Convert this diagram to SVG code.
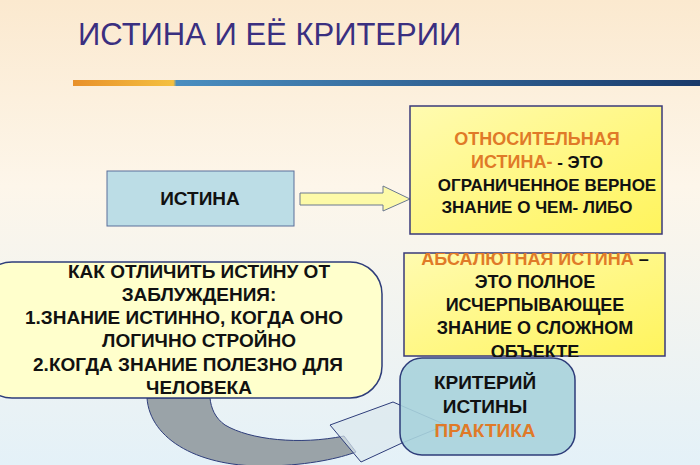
<svg xmlns="http://www.w3.org/2000/svg" width="700" height="465" viewBox="0 0 700 465">
<defs>
<linearGradient id="bg" x1="0" y1="0" x2="0" y2="1"><stop offset="0" stop-color="#fbe9cf"/><stop offset="0.4" stop-color="#fdf6ea"/><stop offset="1" stop-color="#e4f1f8"/></linearGradient>
<linearGradient id="yl" x1="0" y1="0" x2="1" y2="1"><stop offset="0" stop-color="#fffbb0"/><stop offset="1" stop-color="#fff45c"/></linearGradient>
<linearGradient id="bar" x1="0" x2="1"><stop offset="0" stop-color="#e8902a"/><stop offset="0.16" stop-color="#f4c040"/><stop offset="0.165" stop-color="#4a8ec0"/><stop offset="1" stop-color="#1a3a6a"/></linearGradient>
<clipPath id="cA"><rect x="404" y="253" width="262" height="104"/></clipPath>
<style>
.t{font-family:"Liberation Sans",Arial,sans-serif;font-weight:bold;font-size:17px;fill:#111;text-anchor:middle}
.o{fill:#e07a28}
.big{font-size:18px}
</style>
</defs>
<rect width="700" height="465" fill="url(#bg)"/>
<text x="78" y="45" font-family="Liberation Sans,sans-serif" font-size="31" fill="#3a2f80">ИСТИНА И ЕЁ КРИТЕРИИ</text>
<rect x="73" y="80" width="627" height="6" fill="url(#bar)"/>
<g id="connectors">
<path d="M147,398 C150,440 200,468 270,466 C310,465 340,458 356,452 L344,436 C300,445 250,440 225,425 C215,418 211,408 210,398 Z" fill="#9aa3a8" stroke="#2e3d7a" stroke-width="1"/>
<path d="M330,425 L393,402 L446,425 L402,443 L361,462 Z" fill="#dbe8ee" fill-opacity="0.7" stroke="#2e3d7a" stroke-width="1"/>
<path d="M300,193 L383,193 L383,186 L410,199 L383,211 L383,205 L300,205 Z" fill="#fdfaa8" stroke="#6a7890" stroke-width="1"/>
</g>
<g id="istina"><rect x="107" y="171" width="187" height="55" fill="#bcdde6" stroke="#5a6f9a"/><text class="t" x="200" y="205" style="font-size:19px">ИСТИНА</text></g>
<g id="relative"><rect x="410" y="106" width="252" height="128" fill="url(#yl)" stroke="#3a3a7a" stroke-width="1.5"/>
<text class="t" x="537" y="145"><tspan class="o big">ОТНОСИТЕЛЬНАЯ</tspan></text>
<text class="t" x="537" y="168"><tspan class="o big">ИСТИНА-</tspan> - ЭТО</text>
<text class="t" x="547" y="191">ОГРАНИЧЕННОЕ ВЕРНОЕ</text>
<text class="t" x="537" y="213">ЗНАНИЕ О ЧЕМ- ЛИБО</text></g>
<g id="absolute"><rect x="404" y="253" width="261" height="103" fill="url(#yl)" stroke="#3a3a7a" stroke-width="1.5"/>
<g clip-path="url(#cA)"><text class="t big" x="535" y="265"><tspan class="o">АБСАЛЮТНАЯ ИСТИНА</tspan> –</text>
<text class="t big" x="535" y="288">ЭТО ПОЛНОЕ</text>
<text class="t big" x="535" y="311">ИСЧЕРПЫВАЮЩЕЕ</text>
<text class="t big" x="535" y="334">ЗНАНИЕ О СЛОЖНОМ</text>
<text class="t big" x="535" y="358">ОБЪЕКТЕ</text></g></g>
<g id="howto"><rect x="-20" y="262" width="402" height="136" rx="32" fill="#ffffcc" stroke="#2e3d7a" stroke-width="1.5"/>
<text class="t big" x="199" y="278" style="font-size:19px">КАК ОТЛИЧИТЬ ИСТИНУ ОТ</text>
<text class="t big" x="199" y="301" style="font-size:19px">ЗАБЛУЖДЕНИЯ:</text>
<text class="t big" x="184" y="324" style="font-size:19px">1.ЗНАНИЕ ИСТИННО, КОГДА ОНО</text>
<text class="t big" x="199" y="347" style="font-size:19px">ЛОГИЧНО СТРОЙНО</text>
<text class="t big" x="188" y="371" style="font-size:19px">2.КОГДА ЗНАНИЕ ПОЛЕЗНО ДЛЯ</text>
<text class="t big" x="199" y="394" style="font-size:19px">ЧЕЛОВЕКА</text></g>
<g id="criterion"><rect x="400" y="358" width="175" height="97" rx="22" fill="#a9d3dc" fill-opacity="0.9" stroke="#2e3d7a" stroke-width="1.5"/>
<text class="t big" x="485" y="389" style="font-size:19px">КРИТЕРИЙ</text>
<text class="t big" x="485" y="413" style="font-size:19px">ИСТИНЫ</text>
<text class="t big o" x="485" y="437" style="font-size:19px">ПРАКТИКА</text></g>
</svg>
